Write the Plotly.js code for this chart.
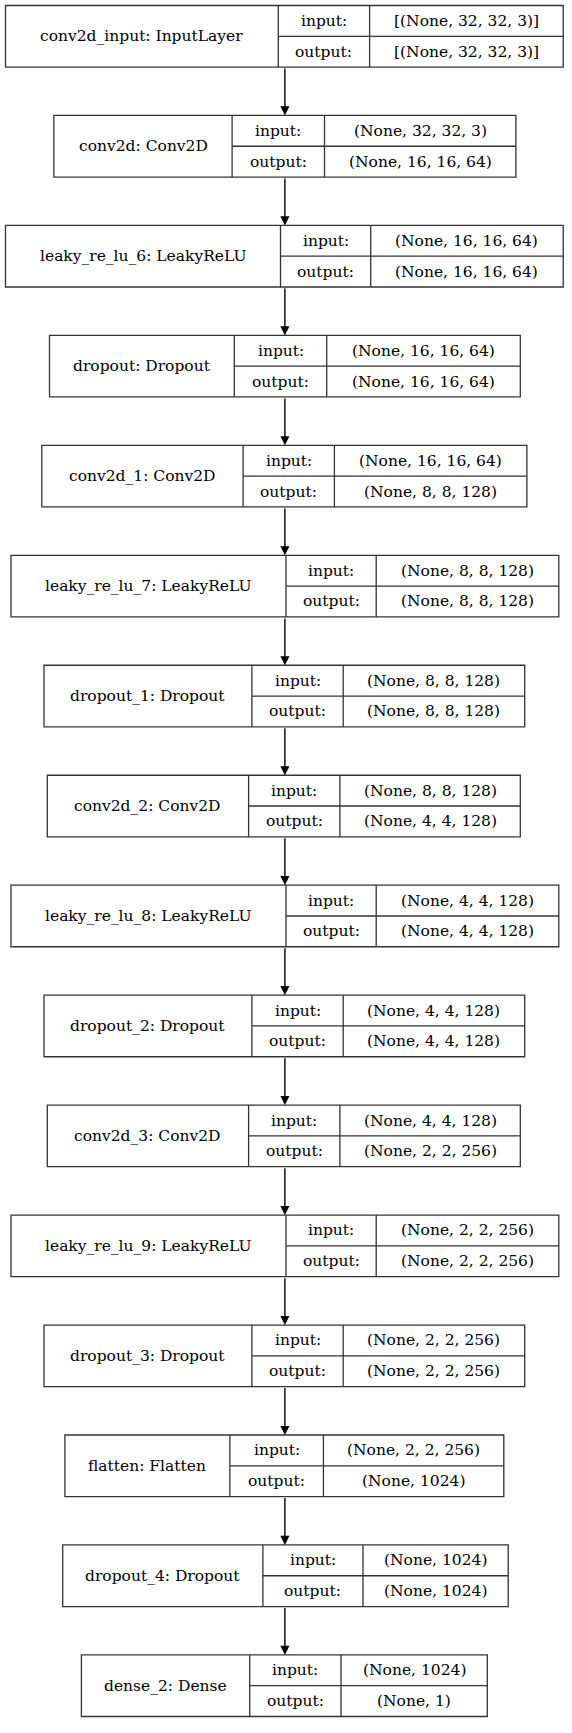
<!DOCTYPE html>
<html>
<head>
<script src="https://cdn.plot.ly/plotly-3.0.1.min.js"></script>
<style>body{margin:0;background:#fff}</style>
</head>
<body>
<div id="graph" style="width:572px;height:1733px"></div>
<script>
// layer data
var layerNames = ['conv2d_input: InputLayer','conv2d: Conv2D','leaky_re_lu_6: LeakyReLU','dropout: Dropout',
  'conv2d_1: Conv2D','leaky_re_lu_7: LeakyReLU','dropout_1: Dropout','conv2d_2: Conv2D',
  'leaky_re_lu_8: LeakyReLU','dropout_2: Dropout','conv2d_3: Conv2D','leaky_re_lu_9: LeakyReLU',
  'dropout_3: Dropout','flatten: Flatten','dropout_4: Dropout','dense_2: Dense'];
var inputShapes = ['[(None, 32, 32, 3)]','(None, 32, 32, 3)','(None, 16, 16, 64)','(None, 16, 16, 64)',
  '(None, 16, 16, 64)','(None, 8, 8, 128)','(None, 8, 8, 128)','(None, 8, 8, 128)',
  '(None, 4, 4, 128)','(None, 4, 4, 128)','(None, 4, 4, 128)','(None, 2, 2, 256)',
  '(None, 2, 2, 256)','(None, 2, 2, 256)','(None, 1024)','(None, 1024)'];
var outputShapes = ['[(None, 32, 32, 3)]','(None, 16, 16, 64)','(None, 16, 16, 64)','(None, 16, 16, 64)',
  '(None, 8, 8, 128)','(None, 8, 8, 128)','(None, 8, 8, 128)','(None, 4, 4, 128)',
  '(None, 4, 4, 128)','(None, 4, 4, 128)','(None, 2, 2, 256)','(None, 2, 2, 256)',
  '(None, 2, 2, 256)','(None, 1024)','(None, 1024)','(None, 1)'];

// box geometry (layout only)
var boxLeft  = [5,49,5,45,38,10,40,43,10,40,43,10,40,59,57,74];
var colDiv1  = [253,211,255,213,221,260,229,226,260,229,226,260,229,209,239,227];
var colDiv2  = [336,295,337,297,304,342,312,309,342,312,309,342,312,294,330,310];
var boxRight = [512,469,512,473,479,508,477,473,508,477,473,508,477,458,462,443];
var rowStep = 100, boxH = 56, top0 = 5, cx = 259;

var shapes = [], annotations = [];
var lc = {color:'#333', width:1.3};
var fnt = {family:'DejaVu Serif', size:15.5, color:'#000'};
layerNames.forEach(function(name,i){
  var y0 = top0 + i*rowStep, y1 = y0 + boxH, ym = (y0+y1)/2;
  shapes.push({type:'rect',x0:boxLeft[i],x1:boxRight[i],y0:y0,y1:y1,line:lc});
  shapes.push({type:'line',x0:colDiv1[i],x1:colDiv1[i],y0:y0,y1:y1,line:lc});
  shapes.push({type:'line',x0:colDiv2[i],x1:colDiv2[i],y0:y0,y1:y1,line:lc});
  shapes.push({type:'line',x0:colDiv1[i],x1:boxRight[i],y0:ym,y1:ym,line:lc});
  annotations.push({x:(boxLeft[i]+colDiv1[i])/2,y:ym,text:name,showarrow:false,font:fnt});
  annotations.push({x:(colDiv1[i]+colDiv2[i])/2,y:(y0+ym)/2,text:'input:',showarrow:false,font:fnt});
  annotations.push({x:(colDiv1[i]+colDiv2[i])/2,y:(ym+y1)/2,text:'output:',showarrow:false,font:fnt});
  annotations.push({x:(colDiv2[i]+boxRight[i])/2,y:(y0+ym)/2,text:inputShapes[i],showarrow:false,font:fnt});
  annotations.push({x:(colDiv2[i]+boxRight[i])/2,y:(ym+y1)/2,text:outputShapes[i],showarrow:false,font:fnt});
  if(i>0){
    annotations.push({x:cx,y:y0,ax:cx,ay:y0-rowStep+boxH,axref:'x',ayref:'y',xref:'x',yref:'y',
      text:'',showarrow:true,arrowhead:2,arrowsize:1.3,arrowwidth:1.4,arrowcolor:'#000'});
  }
});

var layout = {
  width:572, height:1733,
  margin:{l:0,r:0,t:0,b:0},
  paper_bgcolor:'#fff', plot_bgcolor:'#fff',
  xaxis:{range:[0,520],visible:false,fixedrange:true},
  yaxis:{range:[1576,0],visible:false,fixedrange:true},
  shapes:shapes, annotations:annotations, showlegend:false
};
Plotly.newPlot('graph',[],layout,{staticPlot:true});
</script>
</body>
</html>
